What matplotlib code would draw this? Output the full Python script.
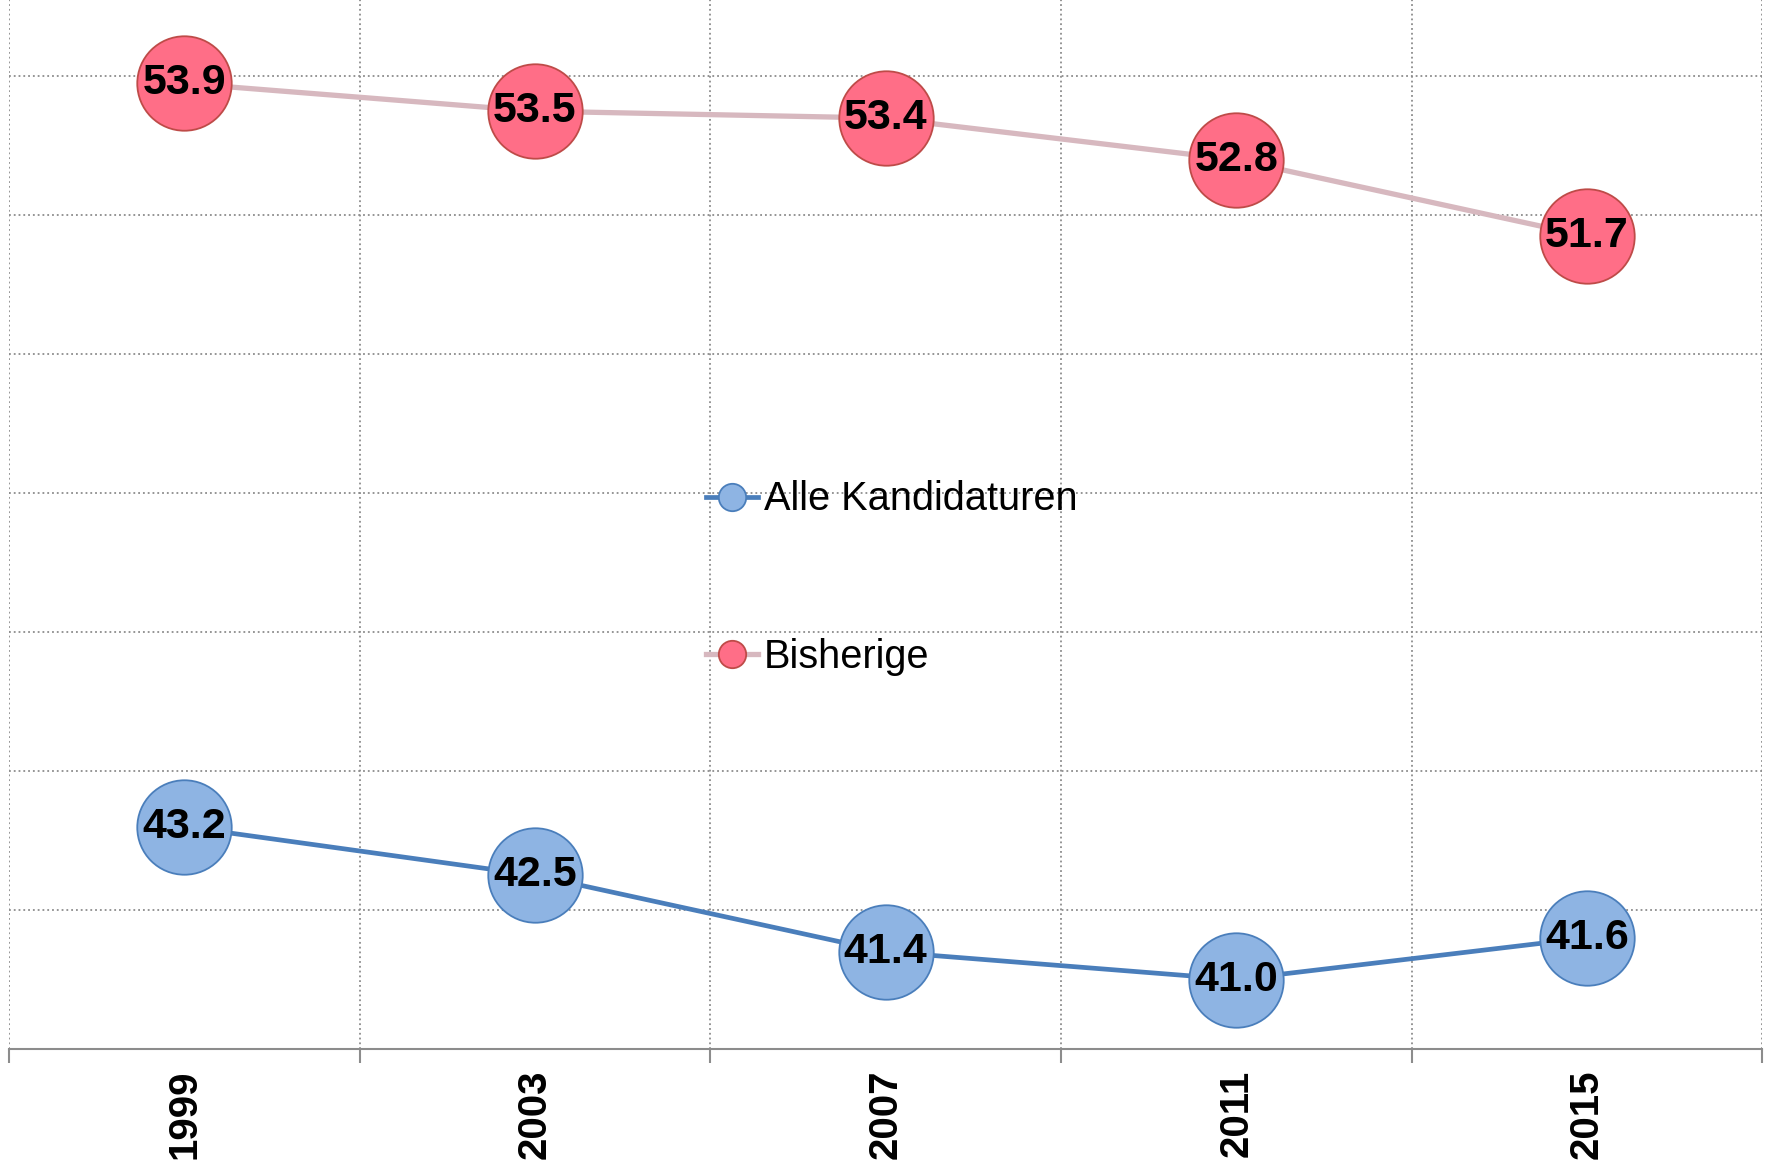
import matplotlib.pyplot as plt
import numpy as np

# Daten
years = ['1999', '2003', '2007', '2011', '2015']
alle = [43.2, 42.5, 41.4, 41.0, 41.6]
bisherige = [53.9, 53.5, 53.4, 52.8, 51.7]

plt.rcParams['font.family'] = ['Liberation Sans', 'DejaVu Sans']

fig = plt.figure(figsize=(17.69, 11.64), dpi=100)
ax = fig.add_axes([0.0051, 0.0988, 0.9911, 0.9012])

x = np.arange(len(years))

ax.plot(x, alle, color='#4A7EBB', lw=3.4, marker='o', markersize=68,
        markerfacecolor='#8EB4E3', markeredgecolor='#4A7EBB',
        markeredgewidth=1.3, label='Alle Kandidaturen', zorder=3)
ax.plot(x, bisherige, color='#D7B8BF', lw=3.8, marker='o', markersize=68,
        markerfacecolor='#FF6E87', markeredgecolor='#BE4B48',
        markeredgewidth=1.3, label='Bisherige', zorder=3)

# Werte in den Kreisen
for xi, v in zip(x, alle):
    ax.text(xi, v, f'{v:.1f}', ha='center', va='center', fontsize=31,
            fontweight='bold', zorder=4)
for xi, v in zip(x, bisherige):
    ax.text(xi, v, f'{v:.1f}', ha='center', va='center', fontsize=31,
            fontweight='bold', zorder=4)

ax.set_xlim(-0.5, len(years) - 0.5)
ax.set_ylim(40, 55.1)

ax.set_xticks(x)
ax.set_xticklabels(years, rotation=90, fontsize=29, fontweight='bold')
ax.set_xticks(np.arange(-0.5, len(years), 1.0), minor=True)
ax.tick_params(axis='x', which='major', length=0, pad=15)
ax.tick_params(axis='x', which='minor', length=10, width=1.5,
               color='#8C8C8C', direction='out')

ax.set_yticks(np.arange(40, 55, 2))
ax.set_yticklabels([])
ax.tick_params(axis='y', length=0)

ax.grid(True, axis='y', which='major', linestyle=':', color='#8C8C8C', lw=1.3)
ax.grid(True, axis='x', which='minor', linestyle=':', color='#8C8C8C', lw=1.3)

for s in ['top', 'right', 'left']:
    ax.spines[s].set_visible(False)
ax.spines['bottom'].set_color('#8C8C8C')
ax.spines['bottom'].set_linewidth(1.5)

leg = ax.legend(loc='center left', bbox_to_anchor=(0.3977, 0.449),
                frameon=False, fontsize=28.6, markerscale=0.29,
                handlelength=1.3, handletextpad=0.15, labelspacing=3.0,
                borderpad=0, borderaxespad=0)

fig.savefig('out.png', dpi=100)
